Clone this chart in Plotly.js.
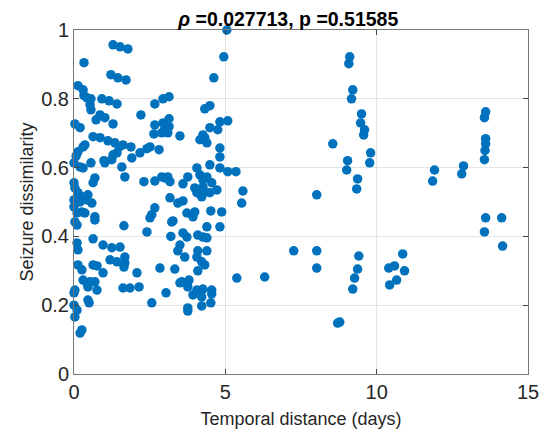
<!DOCTYPE html>
<html>
<head>
<meta charset="utf-8">
<script src="https://cdn.plot.ly/plotly-3.0.1.min.js"></script>
<style>html,body{margin:0;padding:0;background:#fff;}#chart{width:547px;height:437px;}</style>
</head>
<body>
<div id="chart"></div>
<script>
// Temporal distance (days) between seizure pairs
const tempDist = [
5.05,1.29,1.52,1.78,0.33,4.95,4.62,1.22,1.45,1.72,
0.13,0.30,0.33,0.43,0.56,0.53,0.56,0.92,1.16,1.42,
0.73,0.86,1.02,1.29,2.21,2.67,2.94,3.14,0.03,0.20,
0.63,0.86,1.12,1.35,1.49,1.62,1.88,1.42,1.29,1.25,
0.99,1.02,1.58,1.68,1.91,2.18,2.41,2.81,2.67,2.94,
3.14,3.14,2.64,2.90,3.10,3.00,3.50,0.00,0.07,0.13,
0.30,0.36,0.20,0.30,0.56,0.69,0.63,0.00,0.03,0.13,
0.26,0.46,0.00,0.20,0.43,0.59,0.00,0.10,0.26,0.36,
0.03,0.10,0.69,0.69,2.31,2.67,2.90,3.10,3.17,3.17,
4.32,4.49,4.82,5.08,4.26,4.49,4.75,4.32,4.39,4.16,
4.82,4.82,4.49,4.06,4.82,5.08,5.35,3.76,3.60,5.58,
5.54,3.99,4.06,4.26,4.22,4.49,4.72,4.55,4.32,4.16,
4.39,4.26,3.43,3.60,3.73,3.93,3.99,4.52,4.88,3.27,
4.39,4.82,3.60,3.73,4.09,4.26,4.39,3.50,3.43,4.09,
4.39,3.66,4.06,4.22,4.32,2.67,2.57,2.51,3.23,1.65,
2.41,3.20,2.84,3.33,2.08,1.62,1.85,2.15,3.56,3.80,
3.76,3.50,3.04,3.93,4.06,4.26,4.55,4.55,4.22,2.57,
3.76,3.76,4.22,4.52,5.38,4.09,0.10,0.63,0.13,0.96,
1.25,1.52,1.19,1.42,1.68,1.68,1.65,0.13,0.26,0.63,
0.76,0.96,0.30,0.43,0.69,0.53,0.76,0.46,0.03,0.00,
0.46,0.50,0.00,0.10,0.03,0.26,0.20,3.00,2.51,
9.11,9.08,9.21,9.17,9.50,9.47,9.60,9.57,8.55,9.04,
9.01,9.80,9.77,9.37,9.34,8.02,7.26,8.02,8.02,9.41,
9.37,9.27,9.21,8.71,8.78,6.30,10.40,10.59,10.43,10.66,
10.86,10.92,11.91,11.85,12.87,12.81,13.60,13.56,13.60,13.60,
13.58,13.56,13.60,13.56,14.13,14.16
];
// Seizure dissimilarity
const dissim = [
1.000,0.957,0.951,0.945,0.905,0.922,0.861,0.870,0.861,0.855,
0.838,0.826,0.809,0.803,0.800,0.783,0.768,0.800,0.794,0.785,
0.739,0.753,0.745,0.727,0.753,0.785,0.800,0.806,0.727,0.716,
0.690,0.687,0.678,0.672,0.660,0.666,0.660,0.643,0.637,0.623,
0.620,0.614,0.602,0.573,0.628,0.643,0.655,0.652,0.724,0.730,
0.742,0.719,0.698,0.701,0.701,0.713,0.692,0.614,0.634,0.646,
0.660,0.666,0.602,0.599,0.614,0.570,0.556,0.556,0.541,0.527,
0.515,0.521,0.506,0.500,0.506,0.497,0.486,0.468,0.471,0.468,
0.442,0.433,0.457,0.448,0.559,0.561,0.573,0.573,0.559,0.512,
0.771,0.780,0.733,0.736,0.695,0.716,0.710,0.687,0.672,0.681,
0.657,0.631,0.608,0.599,0.599,0.588,0.588,0.573,0.553,0.532,
0.497,0.541,0.527,0.544,0.515,0.527,0.535,0.556,0.529,0.579,
0.573,0.564,0.497,0.503,0.468,0.457,0.471,0.474,0.471,0.445,
0.428,0.428,0.410,0.398,0.404,0.398,0.396,0.375,0.358,0.358,
0.358,0.340,0.340,0.326,0.317,0.483,0.463,0.454,0.442,0.431,
0.413,0.400,0.308,0.305,0.294,0.250,0.250,0.253,0.268,0.273,
0.253,0.265,0.236,0.230,0.244,0.247,0.244,0.233,0.224,0.207,
0.192,0.183,0.198,0.207,0.279,0.300,0.381,0.393,0.361,0.375,
0.367,0.369,0.332,0.326,0.340,0.323,0.311,0.317,0.303,0.317,
0.314,0.294,0.273,0.265,0.268,0.268,0.244,0.253,0.244,0.236,
0.215,0.207,0.200,0.186,0.166,0.128,0.119,0.570,0.660,
0.922,0.902,0.826,0.800,0.756,0.730,0.710,0.695,0.669,0.620,
0.593,0.643,0.614,0.567,0.538,0.521,0.358,0.358,0.308,0.343,
0.305,0.279,0.247,0.148,0.151,0.282,0.308,0.314,0.259,0.273,
0.349,0.300,0.593,0.561,0.605,0.582,0.762,0.745,0.684,0.669,
0.650,0.623,0.454,0.413,0.454,0.372
];
const xTicks = [0, 5, 10, 15];
const yTicks = [0, 0.2, 0.4, 0.6, 0.8, 1];
const yTickText = ['0', '0.2', '0.4', '0.6', '0.8', '1'];
const titleText = '<b><i>ρ</i> =0.027713, p =0.51585</b>';
const FONT = 'Liberation Sans, Arial, Helvetica, sans-serif';

const trace = {
  x: tempDist, y: dissim, type: 'scatter', mode: 'markers',
  cliponaxis: false,
  marker: {color: '#0072BD', size: 9.5, line: {width: 0}},
  hoverinfo: 'x+y'
};
const axisCommon = {
  showline: true, mirror: 'ticks', linecolor: '#777', linewidth: 1,
  ticks: 'inside', ticklen: 5, tickcolor: '#444', tickwidth: 1,
  showgrid: true, gridcolor: '#e4e4e4', gridwidth: 1, zeroline: false,
  tickfont: {family: FONT, size: 20, color: '#262626'}
};
const layout = {
  width: 547, height: 437,
  margin: {l: 74, r: 19, t: 30, b: 63},
  paper_bgcolor: '#fff', plot_bgcolor: '#fff',
  showlegend: false,
  title: {text: titleText, x: 0.527, xanchor: 'center', y: 0.955, yanchor: 'middle',
          font: {family: FONT, size: 19.5, color: '#000'}},
  xaxis: Object.assign({}, axisCommon, {
    range: [0, 15], tickvals: xTicks, ticktext: xTicks.map(String),
    title: {text: 'Temporal distance (days)', standoff: 10,
            font: {family: FONT, size: 18, color: '#262626'}}
  }),
  yaxis: Object.assign({}, axisCommon, {
    range: [0, 1], tickvals: yTicks, ticktext: yTickText,
    title: {text: 'Seizure dissimilarity', standoff: 2,
            font: {family: FONT, size: 18, color: '#262626'}}
  })
};
Plotly.newPlot('chart', [trace], layout, {displayModeBar: false, staticPlot: true});
</script>
</body>
</html>
